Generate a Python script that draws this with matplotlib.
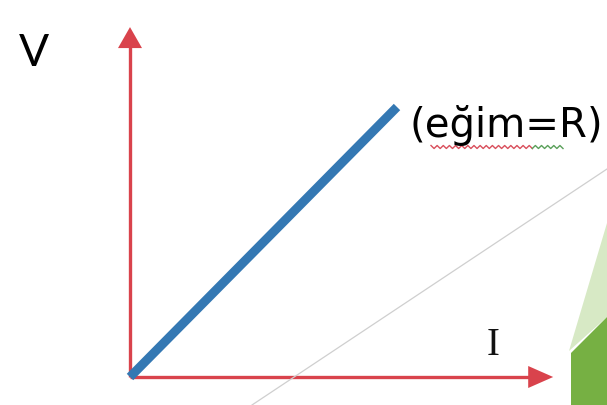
import matplotlib

matplotlib.use("Agg")
import matplotlib.pyplot as plt
import numpy as np
from matplotlib.patches import Polygon
from matplotlib.lines import Line2D

# V = I * R, drawn with R = 1 in chart units
current = [0.0, 1.0]
voltage = [0.0, 1.0]
axis_len_i = 1.585
axis_len_v = 1.296

axis_labels = ["I", "V"]
slope_label = "(eğim=R)"

RED = "#d9434c"
BLUE = "#3478b3"

W, H = 607, 405
fig = plt.figure(figsize=(W / 100, H / 100), dpi=100)
fig.patch.set_facecolor("white")

# slide decoration behind the diagram
fig.add_artist(Line2D([252 / W, 1.0], [1 - 405 / H, 1 - 169 / H], transform=fig.transFigure,
                      color="#cfcfcf", lw=0.9))
fig.add_artist(Polygon([(607 / W, 1 - 223 / H), (569 / W, 1 - 351 / H), (607 / W, 1 - 317 / H)],
                       closed=True, transform=fig.transFigure, facecolor="#d7e9c5", edgecolor="none"))
fig.add_artist(Polygon([(571 / W, 1 - 353 / H), (607 / W, 1 - 317 / H), (607 / W, 0), (571 / W, 0)],
                       closed=True, transform=fig.transFigure, facecolor="#76b043", edgecolor="none"))

ax = fig.add_axes([0, 0, 1, 1])
ax.set_xlim(-130 / 267, 477 / 267)
ax.set_ylim(-28 / 270, 377 / 270)
ax.axis("off")

# axes arrows
ax.plot([0, 0], [0, axis_len_v - 0.07], color=RED, lw=2.4, solid_capstyle="butt")
ax.plot([0, axis_len_i - 0.08], [0, 0], color=RED, lw=2.4, solid_capstyle="butt")
ax.add_patch(Polygon([(0, axis_len_v), (-12 / 267, axis_len_v - 21 / 270), (12 / 267, axis_len_v - 21 / 270)],
                     closed=True, facecolor=RED, edgecolor="none"))
ax.add_patch(Polygon([(axis_len_i, 0), (axis_len_i - 25 / 267, 11 / 270), (axis_len_i - 25 / 267, -11 / 270)],
                     closed=True, facecolor=RED, edgecolor="none"))

ax.plot(current, voltage, color=BLUE, lw=6.5, solid_capstyle="butt")

ax.text(-0.36, 1.2, axis_labels[1], fontsize=32, family="Lato", ha="center", va="center")
ax.text(1.36, 0.115, axis_labels[0], fontsize=28, family="Liberation Serif",
        ha="center", va="center", color="#111111")
ax.text(1.045, 0.889, slope_label, fontsize=29, family="DejaVu Sans", ha="left", va="baseline")

# spell-check squiggle under the label
xs = np.linspace(431, 563, 44)
ys = 147 + np.where(np.arange(44) % 2 == 0, -1.5, 1.5)
split = 33
ax.plot((xs[:split + 1] - 130) / 267, (377 - ys[:split + 1]) / 270, color="#d94f5c", lw=1.0)
ax.plot((xs[split:] - 130) / 267, (377 - ys[split:]) / 270, color="#5aa05a", lw=1.0)

fig.savefig("out.png", dpi=100)
